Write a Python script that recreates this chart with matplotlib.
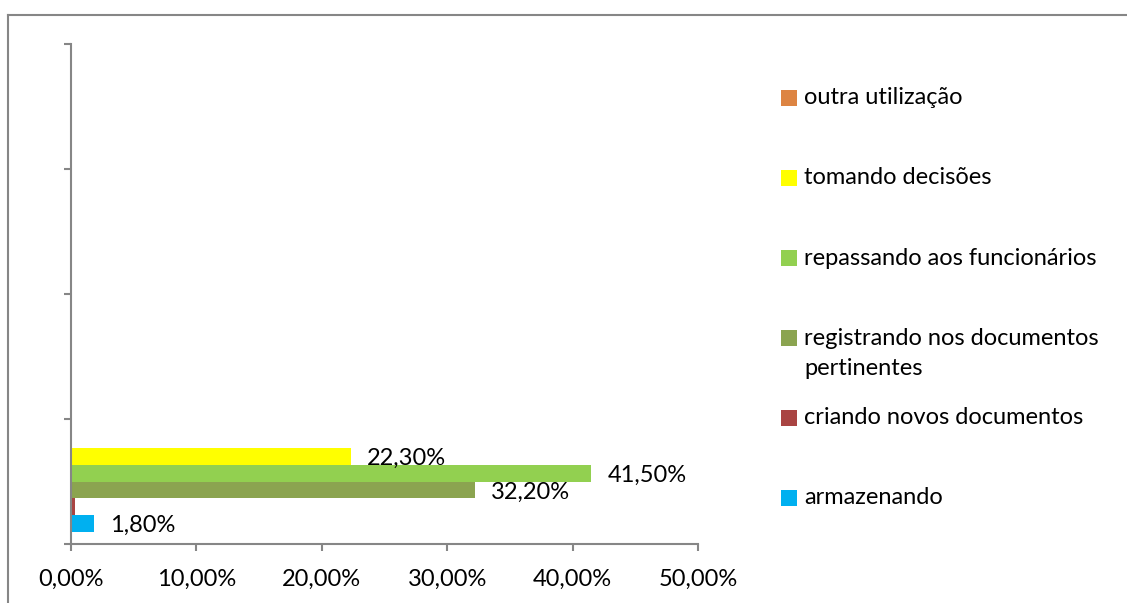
import matplotlib
matplotlib.use("Agg")
import matplotlib.pyplot as plt
from matplotlib.patches import Rectangle
from matplotlib.lines import Line2D
from matplotlib.ticker import FuncFormatter

plt.rcParams['font.family'] = ['Lato', 'DejaVu Sans']

series = ["armazenando", "criando novos documentos",
          "registrando nos documentos\npertinentes",
          "repassando aos funcionários", "tomando decisões", "outra utilização"]
values = [1.80, 0.30, 32.20, 41.50, 22.30, 0.0]
value_labels = ["1,80%", None, "32,20%", "41,50%", "22,30%", None]
colors = ["#00B0F0", "#A94442", "#8BA450", "#92D050", "#FFFF00", "#DD8442"]
xticks = [0, 10, 20, 30, 40, 50]

W, H = 1127, 603
FS = 17
fig = plt.figure(figsize=(W / 100, H / 100), dpi=100)
ax = fig.add_axes([71 / W, (H - 544) / H, (698 - 71) / W, (544 - 44) / H])

n = len(series)
bh = 0.1344
for i, (v, c) in enumerate(zip(values, colors)):
    y = -bh * n / 2 + bh * (i + 0.5)
    ax.barh(y, v, height=bh, color=c, edgecolor='none', zorder=2)
    lab = value_labels[i]
    if lab:
        ax.annotate(lab, xy=(v, y), xytext=(11.5, -1.5), textcoords='offset points',
                    ha='left', va='center', fontsize=FS, color='black', zorder=5)

ax.set_xlim(0, 50)
ax.set_ylim(-0.5, 3.5)
ax.set_xticks(xticks)
ax.xaxis.set_major_formatter(FuncFormatter(lambda x, p: f"{x:.2f}%".replace('.', ',')))
ax.set_yticks([-0.5, 0.5, 1.5, 2.5, 3.5])
ax.set_yticklabels([])
for s in ['top', 'right']:
    ax.spines[s].set_visible(False)
for s in ['left', 'bottom']:
    ax.spines[s].set_color('#868686')
    ax.spines[s].set_linewidth(1.5)
ax.tick_params(axis='x', direction='out', length=5, width=1.5, color='#868686',
               labelsize=FS, pad=13)
ax.tick_params(axis='y', direction='out', length=5, width=1.5, color='#868686')

# legend (manual, top = last series)
leg_y = [498, 418, 353.5, 258, 178, 98]
for name, c, yy in zip(series, colors, leg_y):
    my = yy - 15.5 if '\n' in name else yy
    fig.patches.append(Rectangle((781 / W, (H - my - 8) / H), 16 / W, 16 / H,
                                 transform=fig.transFigure, facecolor=c,
                                 edgecolor='none'))
    fig.text(804 / W, (H - yy) / H, name, ha='left', va='center',
             fontsize=FS, linespacing=1.55)

# outer frame
fig.add_artist(Line2D([8 / W, 1], [(H - 15) / H, (H - 15) / H], color='#868686',
                      lw=1.5, transform=fig.transFigure))
fig.add_artist(Line2D([8 / W, 8 / W], [0, (H - 15) / H], color='#868686',
                      lw=1.5, transform=fig.transFigure))

fig.savefig("out.png", dpi=100, facecolor='white')
